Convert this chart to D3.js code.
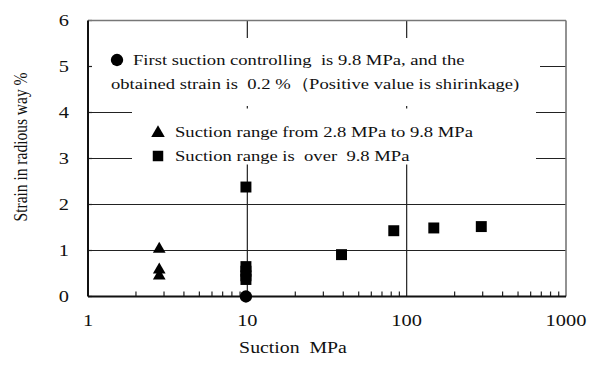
<!DOCTYPE html>
<html>
<head>
<meta charset="utf-8">
<script src="https://cdn.jsdelivr.net/npm/d3@7"></script>
<style>
  body { margin: 0; background: #fff; }
</style>
</head>
<body>
<div id="chart"></div>
<script>
// data
var firstSuction = [9.8];
var firstStrain = [0.0];
var triSuction = [2.8, 2.8, 2.8];
var triStrain = [1.03, 0.58, 0.45];
var sqSuction = [9.8, 9.8, 9.8, 9.8, 9.8, 39, 83, 148, 294];
var sqStrain = [2.38, 0.65, 0.55, 0.45, 0.37, 0.91, 1.43, 1.49, 1.52];
var yTicks = [0, 1, 2, 3, 4, 5, 6];
var xTicks = [1, 10, 100, 1000];

var W = 589, H = 374;
var margin = { top: 20.5, right: 23, bottom: 77.5, left: 88 };
var width = W - margin.left - margin.right;
var height = H - margin.top - margin.bottom;
var serif = "'Times New Roman', 'Liberation Serif', 'DejaVu Serif', serif";
// the original picture is stretched sideways a little, so text gets widened
var SX = 1.2;

var svg = d3.select("#chart").append("svg")
  .attr("width", W)
  .attr("height", H)
  .attr("font-family", serif)
  .style("font-family", serif);

var g = svg.append("g")
  .attr("transform", "translate(" + margin.left + "," + margin.top + ")");

var x = d3.scaleLog().domain([1, 1000]).range([0, width]);
var y = d3.scaleLinear().domain([0, 6]).range([height, 0]);

// places a horizontally stretched text
function wideText(parent, xp, yp, s, size, anchor) {
  return parent.append("text")
    .attr("transform", "translate(" + xp + "," + yp + ") scale(" + SX + ",1)")
    .attr("dy", "0.35em")
    .attr("text-anchor", anchor || "start")
    .attr("fill", "#111")
    .style("font-size", size + "px")
    .style("white-space", "pre")
    .text(s);
}

// gridlines
g.selectAll(".hgrid").data([1, 2, 3, 4, 5]).enter().append("line")
  .attr("x1", 0).attr("x2", width)
  .attr("y1", function (d) { return y(d); })
  .attr("y2", function (d) { return y(d); })
  .attr("stroke", "#222").attr("stroke-width", 1.2);

g.selectAll(".vgrid").data([10, 100]).enter().append("line")
  .attr("x1", function (d) { return x(d); })
  .attr("x2", function (d) { return x(d); })
  .attr("y1", 0).attr("y2", height)
  .attr("stroke", "#222").attr("stroke-width", 1.2);

// legend boxes (white, cover the grid)
g.append("rect")
  .attr("x", 92 - margin.left).attr("y", 38 - margin.top)
  .attr("width", 448).attr("height", 68)
  .attr("fill", "#fff");
g.append("rect")
  .attr("x", 132 - margin.left).attr("y", 108.5 - margin.top)
  .attr("width", 404).attr("height", 56)
  .attr("fill", "#fff");

// minor ticks on x axis
var minor = [];
[1, 10, 100].forEach(function (dec) {
  for (var k = 2; k <= 9; k++) minor.push(dec * k);
});
g.selectAll(".minor").data(minor).enter().append("line")
  .attr("x1", function (d) { return x(d); })
  .attr("x2", function (d) { return x(d); })
  .attr("y1", height).attr("y2", height - 5)
  .attr("stroke", "#222").attr("stroke-width", 1.2);

// y ticks on left axis
g.selectAll(".ytick").data(yTicks).enter().append("line")
  .attr("x1", 0).attr("x2", 4)
  .attr("y1", function (d) { return y(d); })
  .attr("y2", function (d) { return y(d); })
  .attr("stroke", "#222").attr("stroke-width", 1.2);

// frame: top/right grey, left/bottom black
g.append("line").attr("x1", 0).attr("x2", width).attr("y1", 0).attr("y2", 0)
  .attr("stroke", "#777").attr("stroke-width", 1.6);
g.append("line").attr("x1", width).attr("x2", width).attr("y1", 0).attr("y2", height)
  .attr("stroke", "#777").attr("stroke-width", 1.6);
g.append("line").attr("x1", 0).attr("x2", 0).attr("y1", 0).attr("y2", height)
  .attr("stroke", "#111").attr("stroke-width", 2);
g.append("line").attr("x1", 0).attr("x2", width).attr("y1", height).attr("y2", height)
  .attr("stroke", "#111").attr("stroke-width", 2);

// tick labels
yTicks.forEach(function (d) { wideText(g, -19, y(d), d, 17, "end"); });
xTicks.forEach(function (d) { wideText(g, x(d), height + 24, d, 17, "middle"); });

// axis titles
wideText(svg, 293, 347, "Suction  MPa", 16.5, "middle");

svg.append("text")
  .attr("transform", "translate(20,147) rotate(-90) scale(1," + SX + ")")
  .attr("dy", "0.35em")
  .attr("text-anchor", "middle")
  .attr("fill", "#111")
  .style("font-size", "15.5px")
  .text("Strain in radious way %");

// markers
var tri = d3.symbol().type(d3.symbolTriangle).size(70);
var sq = d3.symbol().type(d3.symbolSquare).size(120);
var circ = d3.symbol().type(d3.symbolCircle).size(120);

g.selectAll(".tri").data(d3.zip(triSuction, triStrain)).enter().append("path")
  .attr("d", tri)
  .attr("transform", function (d) { return "translate(" + x(d[0]) + "," + y(d[1]) + ")"; })
  .attr("fill", "#000");

g.selectAll(".sq").data(d3.zip(sqSuction, sqStrain)).enter().append("path")
  .attr("d", sq)
  .attr("transform", function (d) { return "translate(" + x(d[0]) + "," + y(d[1]) + ")"; })
  .attr("fill", "#000");

g.selectAll(".circ").data(d3.zip(firstSuction, firstStrain)).enter().append("path")
  .attr("d", circ)
  .attr("transform", function (d) { return "translate(" + x(d[0]) + "," + y(d[1]) + ")"; })
  .attr("fill", "#000");

// legend content
var leg = svg.append("g");
leg.append("path").attr("d", circ).attr("transform", "translate(117,60)").attr("fill", "#000");
wideText(leg, 133, 60, "First suction controlling  is 9.8 MPa, and the", 15.5);
wideText(leg, 111, 84, "obtained strain is  0.2 %（Positive value is shirinkage)", 15.5);

leg.append("path").attr("d", d3.symbol().type(d3.symbolTriangle).size(80))
  .attr("transform", "translate(158,133)").attr("fill", "#000");
wideText(leg, 175, 132, "Suction range from 2.8 MPa to 9.8 MPa", 15.5);
leg.append("path").attr("d", d3.symbol().type(d3.symbolSquare).size(110))
  .attr("transform", "translate(158,156)").attr("fill", "#000");
wideText(leg, 175, 156, "Suction range is  over  9.8 MPa", 15.5);
</script>
</body>
</html>
